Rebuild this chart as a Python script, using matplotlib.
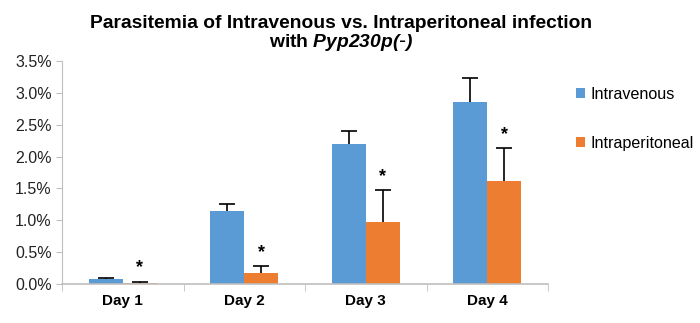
import numpy as np
import matplotlib.pyplot as plt
from matplotlib.ticker import FuncFormatter

plt.rcParams["font.family"] = ["Liberation Sans", "DejaVu Sans"]
plt.rcParams["mathtext.fontset"] = "custom"
plt.rcParams["mathtext.bfit"] = "Liberation Sans:italic:bold"

dias = ["Day 1", "Day 2", "Day 3", "Day 4"]
intravenosa = [0.08, 1.15, 2.20, 2.86]
intravenosa_err = [0.02, 0.10, 0.20, 0.38]
intraperitoneal = [0.02, 0.18, 0.98, 1.61]
intraperitoneal_err = [0.01, 0.10, 0.49, 0.52]

AZUL = "#5B9BD5"
NARANJA = "#ED7D31"
GRIS = "#BFBFBF"

fig = plt.figure(figsize=(7, 3.23), dpi=100)
ax = fig.add_axes([0.0886, 0.1207, 0.783 - 0.0886, 0.811 - 0.1207])

x = np.arange(len(dias))
ancho = 0.28
estilo_err = {"ecolor": "black", "elinewidth": 1.2, "capthick": 1.2}

barras_iv = ax.bar(x - ancho / 2, intravenosa, ancho, color=AZUL, label="Intravenous",
                   yerr=[np.zeros(len(dias)), intravenosa_err], capsize=6,
                   error_kw=estilo_err)
barras_ip = ax.bar(x + ancho / 2, intraperitoneal, ancho, color=NARANJA,
                   label="Intraperitoneal",
                   yerr=[np.zeros(len(dias)), intraperitoneal_err], capsize=6,
                   error_kw=estilo_err)

# solo la mitad superior de las barras de error
for barras in (barras_iv, barras_ip):
    barras.errorbar.lines[1][0].set_visible(False)

# asteriscos de significancia sobre las barras intraperitoneales
for xi, v, e in zip(x, intraperitoneal, intraperitoneal_err):
    ax.annotate("*", (xi + ancho / 2, v + e), xytext=(0, 4),
                textcoords="offset points", ha="center", va="bottom",
                fontsize=13, fontweight="bold")

ax.set_xlim(-0.5, 3.5)
ax.set_ylim(0, 3.5)
ax.set_yticks(np.arange(0, 3.51, 0.5))
ax.yaxis.set_major_formatter(FuncFormatter(lambda v, p: f"{v:.1f}%"))
ax.tick_params(axis="y", labelsize=11.5, length=4, color=GRIS, labelcolor="#222222")

ax.set_xticks(x)
ax.set_xticklabels(dias, fontweight="bold", fontsize=11)
ax.tick_params(axis="x", length=0, pad=7)
ax.set_xticks(np.arange(-0.5, 3.6, 1.0), minor=True)
ax.tick_params(axis="x", which="minor", length=5, color=GRIS)

for lado in ["top", "right"]:
    ax.spines[lado].set_visible(False)
ax.spines["left"].set_color(GRIS)
ax.spines["bottom"].set_color(GRIS)
ax.spines["bottom"].set_linewidth(1.2)

fig.suptitle("Parasitemia of Intravenous vs. Intraperitoneal infection\n"
             "with $\\bfit{Pyp230p(\\text{-})}$", x=0.487, y=0.955,
             fontsize=13.9, fontweight="bold", linespacing=1.05)

ax.legend(loc="upper left", bbox_to_anchor=(1.027, 0.95), frameon=False,
          fontsize=11.6, handlelength=0.6, handleheight=0.6,
          handletextpad=0.3, labelspacing=2.1)

fig.savefig("out.png", dpi=100)
